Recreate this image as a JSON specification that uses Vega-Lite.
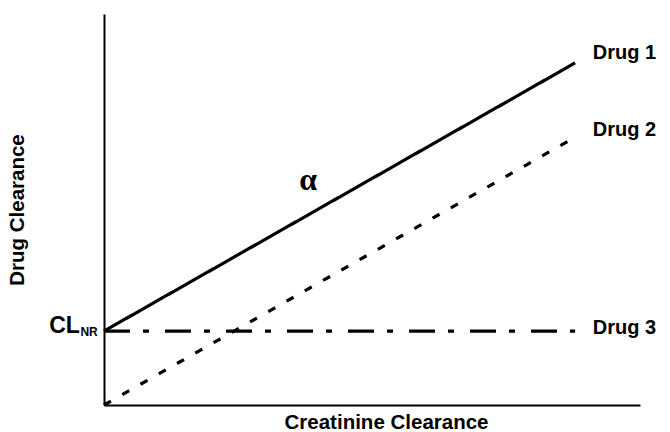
{
  "$schema": "https://vega.github.io/schema/vega-lite/v6.json",
  "width": 536,
  "height": 391,
  "padding": {"left": 104, "top": 14, "right": 30, "bottom": 27},
  "autosize": {"type": "none"},
  "background": "white",
  "config": {
    "view": {"stroke": null},
    "font": "Liberation Sans"
  },
  "datasets": {
    "lines": [
      {"drug": "Drug 1", "cc": 0, "dc": 18.9},
      {"drug": "Drug 1", "cc": 87.9, "dc": 87.5},
      {"drug": "Drug 2", "cc": 0, "dc": 0},
      {"drug": "Drug 2", "cc": 87.9, "dc": 68.5},
      {"drug": "Drug 3", "cc": 0, "dc": 18.9},
      {"drug": "Drug 3", "cc": 87.9, "dc": 18.9}
    ],
    "labels": [
      {"label": "Drug 1", "cc": 91.2, "dc": 88.5},
      {"label": "Drug 2", "cc": 91.2, "dc": 68.8},
      {"label": "Drug 3", "cc": 91.2, "dc": 18.1}
    ],
    "alpha": [{"label": "α", "cc": 38.1, "dc": 57.5}],
    "cl": [{"label": "CL", "cc": -4.5, "dc": 18.4}],
    "nr": [{"label": "NR", "cc": -4.4, "dc": 17.6}]
  },
  "layer": [
    {
      "data": {"name": "lines"},
      "mark": {"type": "line", "strokeWidth": 3.2, "color": "black", "strokeCap": "butt", "clip": false},
      "encoding": {
        "x": {
          "field": "cc", "type": "quantitative",
          "scale": {"domain": [0, 100], "nice": false, "zero": false},
          "axis": {
            "title": "Creatinine Clearance",
            "titleFontSize": 20.5, "titleFontWeight": "bold", "titleFont": "Liberation Sans",
            "titleColor": "black", "titlePadding": 7,
            "titleX": 282,
            "domainColor": "black", "domainWidth": 2,
            "ticks": false, "labels": false, "grid": false
          }
        },
        "y": {
          "field": "dc", "type": "quantitative",
          "scale": {"domain": [0, 100], "nice": false, "zero": false},
          "axis": {
            "title": "Drug Clearance",
            "titleFontSize": 20.5, "titleFontWeight": "bold", "titleFont": "Liberation Sans",
            "titleColor": "black", "titlePadding": 77,
            "domainColor": "black", "domainWidth": 2,
            "ticks": false, "labels": false, "grid": false
          }
        },
        "detail": {"field": "drug"},
        "strokeDash": {
          "field": "drug", "type": "nominal",
          "scale": {"domain": ["Drug 1", "Drug 2", "Drug 3"], "range": [[1, 0], [8, 13], [26, 13, 6, 16]]},
          "legend": null
        }
      }
    },
    {
      "data": {"name": "labels"},
      "mark": {"type": "text", "align": "left", "baseline": "alphabetic", "fontSize": 20, "fontWeight": "bold", "font": "Liberation Sans", "color": "black", "clip": false},
      "encoding": {
        "x": {"field": "cc", "type": "quantitative"},
        "y": {"field": "dc", "type": "quantitative"},
        "text": {"field": "label"}
      }
    },
    {
      "data": {"name": "alpha"},
      "mark": {"type": "text", "align": "center", "baseline": "middle", "fontSize": 32, "fontWeight": "bold", "font": "Liberation Serif", "color": "black"},
      "encoding": {
        "x": {"field": "cc", "type": "quantitative"},
        "y": {"field": "dc", "type": "quantitative"},
        "text": {"field": "label"}
      }
    },
    {
      "data": {"name": "cl"},
      "mark": {"type": "text", "align": "right", "baseline": "alphabetic", "fontSize": 23, "fontWeight": "bold", "font": "Liberation Sans", "color": "black", "clip": false},
      "encoding": {
        "x": {"field": "cc", "type": "quantitative"},
        "y": {"field": "dc", "type": "quantitative"},
        "text": {"field": "label"}
      }
    },
    {
      "data": {"name": "nr"},
      "mark": {"type": "text", "align": "left", "baseline": "alphabetic", "fontSize": 12, "fontWeight": "bold", "font": "Liberation Sans", "color": "black", "clip": false},
      "encoding": {
        "x": {"field": "cc", "type": "quantitative"},
        "y": {"field": "dc", "type": "quantitative"},
        "text": {"field": "label"}
      }
    }
  ]
}
